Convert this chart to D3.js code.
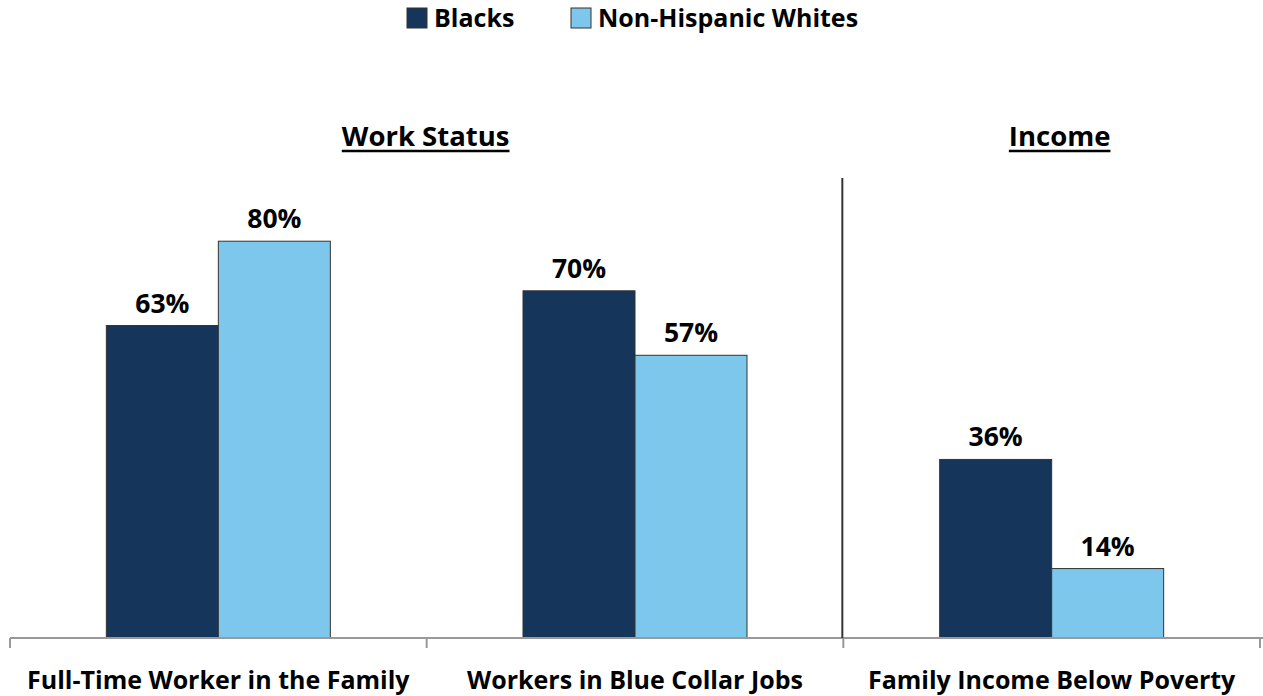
<!DOCTYPE html>
<html><head><meta charset="utf-8">
<script src="https://cdn.jsdelivr.net/npm/d3@7"></script>
<style>body{margin:0;background:#fff}svg{display:block}text{font-family:"Open Sans",sans-serif;font-weight:700;fill:#000}</style>
</head><body><svg id="c" width="1263" height="696"></svg>
<script>
const categories = ["Full-Time Worker in the Family","Workers in Blue Collar Jobs","Family Income Below Poverty"];
const seriesNames = ["Blacks","Non-Hispanic Whites"];
const blacks = [63,70,36];
const whites = [80,57,14];
const sections = [{name:"Work Status", from:0, to:1},{name:"Income", from:2, to:2}];
const colors = ["#15355B","#7DC7ED"];

const svg = d3.select("#c");
const x = d3.scaleBand().domain(categories).range([10,1260]).paddingInner(0).paddingOuter(0);
const y = d3.scaleLinear().domain([0,100]).range([638,142]);
const barW = 112;
const xs = d3.scaleBand().domain(seriesNames).range([0,barW*2]);

const data = categories.map((c,i)=>({c, vals:[blacks[i],whites[i]]}));
const g = svg.append("g");
data.forEach(d=>{
  const cx = x(d.c)+x.bandwidth()/2;
  d.vals.forEach((v,j)=>{
    const bx = cx - barW + xs(seriesNames[j]);
    g.append("rect").attr("x",bx).attr("y",y(v)).attr("width",xs.bandwidth()).attr("height",y(0)-y(v))
      .attr("fill",colors[j]).attr("stroke","#333").attr("stroke-width",1);
    g.append("text").attr("x",bx+xs.bandwidth()/2).attr("y",y(v)-13).attr("text-anchor","middle")
      .attr("font-size",26.5).text(v+"%");
  });
});

// axis
const ax = svg.append("g").attr("transform","translate(0,638)")
  .call(d3.axisBottom(x).tickSize(0).tickFormat(""));
ax.select(".domain").attr("stroke","#999").attr("stroke-width",2).attr("d","M10,0H1263");
const edges = [10].concat(categories.map(c=>x(c)+x.bandwidth()));
edges.forEach(e=>ax.append("line").attr("x1",e).attr("x2",e).attr("y1",0).attr("y2",10).attr("stroke","#999").attr("stroke-width",2));
categories.forEach(c=>svg.append("text").attr("x",x(c)+x.bandwidth()/2).attr("y",689).attr("text-anchor","middle").attr("font-size",25).text(c));

// separator
const sepX = x(categories[2]) - 1;
svg.append("line").attr("x1",sepX).attr("x2",sepX).attr("y1",178).attr("y2",638).attr("stroke","#333").attr("stroke-width",2);

// section headers
sections.forEach(s=>{
  const cx = (x(categories[s.from]) + x(categories[s.to])+x.bandwidth())/2 + (s.from===0?-1:8);
  const t = svg.append("text").attr("x",cx).attr("y",146).attr("text-anchor","middle").attr("font-size",27.5).text(s.name);
  const bb = t.node().getBBox();
  svg.append("line").attr("x1",bb.x).attr("x2",bb.x+bb.width).attr("y1",151).attr("y2",151).attr("stroke","#000").attr("stroke-width",2.5);
});

// legend
const leg = svg.append("g");
const legX = [407,571];
seriesNames.forEach((n,i)=>{
  leg.append("rect").attr("x",legX[i]).attr("y",8).attr("width",20).attr("height",20).attr("fill",colors[i]).attr("stroke","#333");
  leg.append("text").attr("x",legX[i]+27).attr("y",27).attr("font-size",25).text(n);
});
</script></body></html>
